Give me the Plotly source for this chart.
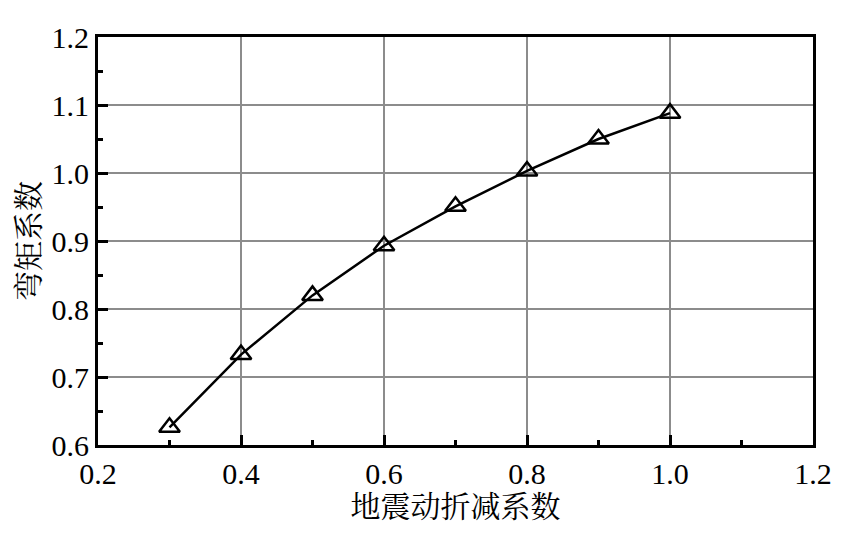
import plotly.graph_objects as go

x = [0.3, 0.4, 0.5, 0.6, 0.7, 0.8, 0.9, 1.0]
y = [0.626, 0.733, 0.820, 0.893, 0.951, 1.003, 1.050, 1.088]
xlabel = "地震动折减系数"
ylabel = "弯矩系数"

fig = go.Figure(go.Scatter(
    x=x, y=y, mode="lines+markers",
    line=dict(color="black", width=2.5),
    marker=dict(symbol="triangle-up-open", size=18, color="black", line=dict(width=2.5)),
))
font = "Liberation Serif, 'Times New Roman', 'Noto Serif CJK SC', 'Noto Sans CJK SC', serif"
axcommon = dict(showline=True, linecolor="black", linewidth=3, mirror=True,
                ticks="inside", ticklen=10, tickwidth=3, tickcolor="black",
                showgrid=True, gridcolor="#8c8c8c", gridwidth=2, zeroline=False,
                tickfont=dict(family=font, size=30, color="black"))
fig.update_xaxes(range=[0.2, 1.2], dtick=0.2, tickformat=".1f",
                 minor=dict(dtick=0.1, ticks="inside", ticklen=5, tickwidth=3, tickcolor="black", showgrid=False),
                 title=dict(text=xlabel, font=dict(family=font, size=30, color="black"), standoff=2),
                 **axcommon)
fig.update_yaxes(range=[0.6, 1.2], dtick=0.1, tickformat=".1f",
                 minor=dict(dtick=0.05, ticks="inside", ticklen=5, tickwidth=3, tickcolor="black", showgrid=False),
                 title=dict(text=ylabel, font=dict(family=font, size=30, color="black"), standoff=4),
                 **axcommon)
fig.update_layout(width=852, height=536, margin=dict(l=90, r=47, t=17, b=99),
                  plot_bgcolor="white", paper_bgcolor="white", showlegend=False)
fig.write_html("out.html")
